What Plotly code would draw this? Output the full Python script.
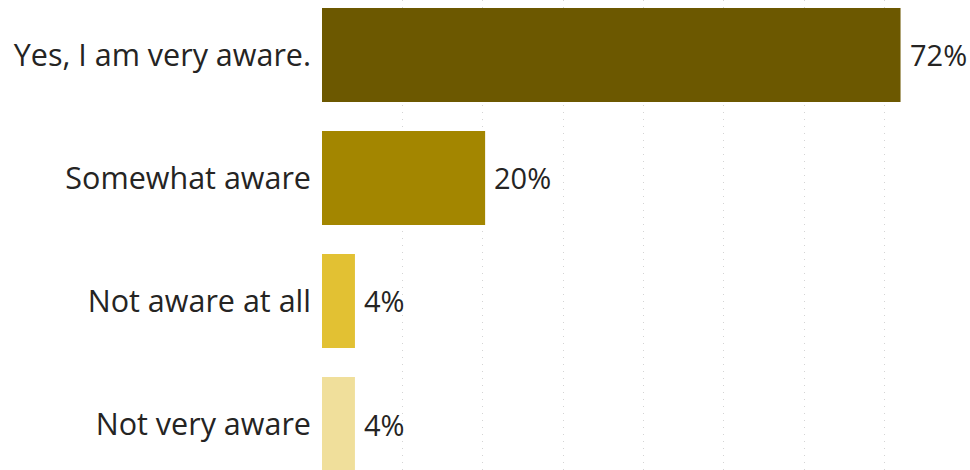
import plotly.graph_objects as go

categories = ["Yes, I am very aware.", "Somewhat aware", "Not aware at all", "Not very aware"]
values = [72.0, 20.3, 4.1, 4.1]
labels = ["72%", "20%", "4%", "4%"]
colors = ["#6C5800", "#A38600", "#E2C133", "#F0DF9B"]

fig = go.Figure()
fig.add_trace(go.Bar(
    x=values, y=categories, orientation="h",
    marker=dict(color=colors, line=dict(width=0)),
    width=0.765,
    hoverinfo="skip",
))
for c, v, t in zip(categories, values, labels):
    fig.add_annotation(x=v, y=c, text=t, showarrow=False, xanchor="left",
                       xshift=7, font=dict(family="Open Sans", size=29, color="#252423"))

fig.update_layout(
    width=970, height=470,
    margin=dict(l=322, r=10, t=0, b=0),
    plot_bgcolor="white", paper_bgcolor="white",
    showlegend=False,
    font=dict(family="Open Sans", size=30.5, color="#252423"),
    xaxis=dict(range=[0, 79.4], dtick=10, showgrid=True, gridcolor="#d4d4d4",
               griddash="1px,6px", gridwidth=1, zeroline=False, showticklabels=False,
               showline=False),
    yaxis=dict(categoryorder="array", categoryarray=categories,
               range=[3.374, -0.447], showgrid=False, zeroline=False,
               ticks="", ticklabelstandoff=10,
               tickfont=dict(family="Open Sans", size=30.5, color="#252423")),
)
fig.write_html("out.html")
